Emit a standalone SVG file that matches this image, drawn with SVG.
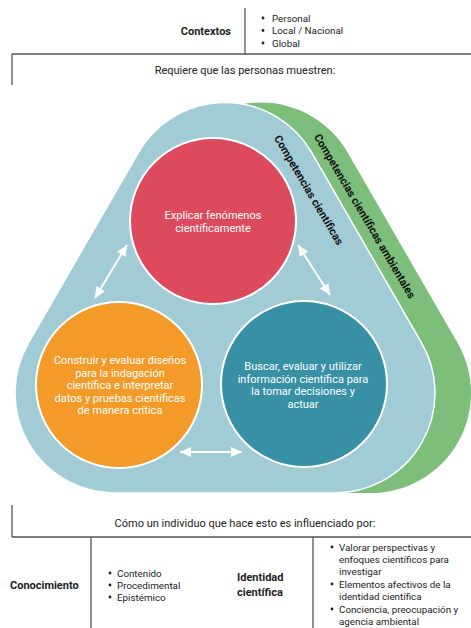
<svg xmlns="http://www.w3.org/2000/svg" width="471" height="628" viewBox="0 0 471 628">
<style>
text{font-family:Roboto,"Liberation Sans",sans-serif;fill:#222}
.b{font-weight:bold;font-size:11px}
.t{font-size:11px}
.s{font-size:9.8px}
.c{font-size:11px;fill:#fff;text-anchor:middle}
.rl{font-weight:bold;font-size:11px;fill:#111;text-anchor:middle}
.ln{stroke:#555;stroke-width:1.3;fill:none}
.circ{stroke:#fff;stroke-width:2}
.arr{stroke:#fff;stroke-width:2;fill:none;marker-start:url(#ah);marker-end:url(#ah)}
</style>
<defs>
<marker id="ah" markerUnits="userSpaceOnUse" markerWidth="12" markerHeight="12" viewBox="0 0 12 12" refX="11" refY="6" orient="auto-start-reverse">
<path d="M0,1 L11,6 L0,11 Z" fill="#fff"/>
</marker>
<path id="tri" d="M138.4,152.5 A100,100 0 0 1 311.6,152.5 L421.6,343 A100,100 0 0 1 335,493 L115,493 A100,100 0 0 1 28.4,343 Z"/>
</defs>
<rect width="471" height="628" fill="#fff"/>

<g id="contextos">
<line class="ln" x1="245" y1="8" x2="245" y2="54"/>
<line class="ln" x1="12" y1="54" x2="471" y2="54"/>
<line class="ln" x1="12" y1="54" x2="12" y2="85"/>
<text class="b" x="231" y="35" text-anchor="end">Contextos</text>
<circle cx="263" cy="18" r="1.4" fill="#222"/>
<circle cx="263" cy="30.5" r="1.4" fill="#222"/>
<circle cx="263" cy="43" r="1.4" fill="#222"/>
<text class="s" x="272" y="21.5">Personal</text>
<text class="s" x="272" y="34">Local / Nacional</text>
<text class="s" x="272" y="46.5">Global</text>
<text class="t" x="245" y="74" text-anchor="middle">Requiere que las personas muestren:</text>
</g>

<g id="ambientales">
<use href="#tri" transform="translate(36,0)" fill="#7DBE7B"/>
<text class="rl" transform="translate(365,216) rotate(59.5)" y="4">Competencias científicas ambientales</text>
</g>

<g id="cientificas">
<use href="#tri" fill="#A2CCD5" stroke="#fff" stroke-width="1.5"/>
<text class="rl" transform="translate(309,190) rotate(59.5)" y="4">Competencias científicas</text>
</g>

<g id="explicar">
<circle class="circ" cx="213" cy="221" r="83" fill="#DD4A5E"/>
<text class="c" x="213" y="219">Explicar fenómenos</text>
<text class="c" x="213" y="232">científicamente</text>
</g>

<g id="construir">
<circle class="circ" cx="119" cy="385" r="83" fill="#F39A28"/>
<text class="c" x="120" y="364">Construir y evaluar diseños</text>
<text class="c" x="120" y="376.5">para la indagación</text>
<text class="c" x="120" y="389">científica e interpretar</text>
<text class="c" x="120" y="401.5">datos y pruebas científicas</text>
<text class="c" x="120" y="414">de manera crítica</text>
</g>

<g id="buscar">
<circle class="circ" cx="304" cy="384" r="83" fill="#3790A6"/>
<text class="c" x="303" y="370">Buscar, evaluar y utilizar</text>
<text class="c" x="303" y="382.5">información científica para</text>
<text class="c" x="303" y="395">la tomar decisiones y</text>
<text class="c" x="303" y="407.5">actuar</text>
</g>

<g id="connectors">
<line class="arr" x1="95" y1="298" x2="127" y2="245"/>
<line class="arr" x1="298" y1="245" x2="330" y2="295"/>
<line class="arr" x1="180" y1="452" x2="242" y2="452"/>
</g>

<g id="influencia">
<line class="ln" x1="12" y1="505" x2="12" y2="537"/>
<line class="ln" x1="12" y1="537" x2="471" y2="537"/>
<line class="ln" x1="91" y1="537" x2="91" y2="628"/>
<line class="ln" x1="313" y1="537" x2="313" y2="628"/>
<text class="t" x="245" y="527" text-anchor="middle">Cómo un individuo que hace esto es influenciado por:</text>
<text class="b" x="10" y="589">Conocimiento</text>
<circle cx="110" cy="573" r="1.4" fill="#222"/>
<circle cx="110" cy="585" r="1.4" fill="#222"/>
<circle cx="110" cy="597" r="1.4" fill="#222"/>
<text class="s" x="117" y="576.5">Contenido</text>
<text class="s" x="117" y="588.5">Procedimental</text>
<text class="s" x="117" y="600.5">Epistémico</text>
<text class="b" x="237" y="581">Identidad</text>
<text class="b" x="237" y="596">científica</text>
<circle cx="332" cy="547" r="1.4" fill="#222"/>
<circle cx="332" cy="584" r="1.4" fill="#222"/>
<circle cx="332" cy="609" r="1.4" fill="#222"/>
<text class="s" x="339" y="550.5">Valorar perspectivas y</text>
<text class="s" x="339" y="562.5">enfoques científicos para</text>
<text class="s" x="339" y="575">investigar</text>
<text class="s" x="339" y="587.5">Elementos afectivos de la</text>
<text class="s" x="339" y="600">identidad científica</text>
<text class="s" x="339" y="612.5">Conciencia, preocupación y</text>
<text class="s" x="339" y="624.5">agencia ambiental</text>
</g>
</svg>
